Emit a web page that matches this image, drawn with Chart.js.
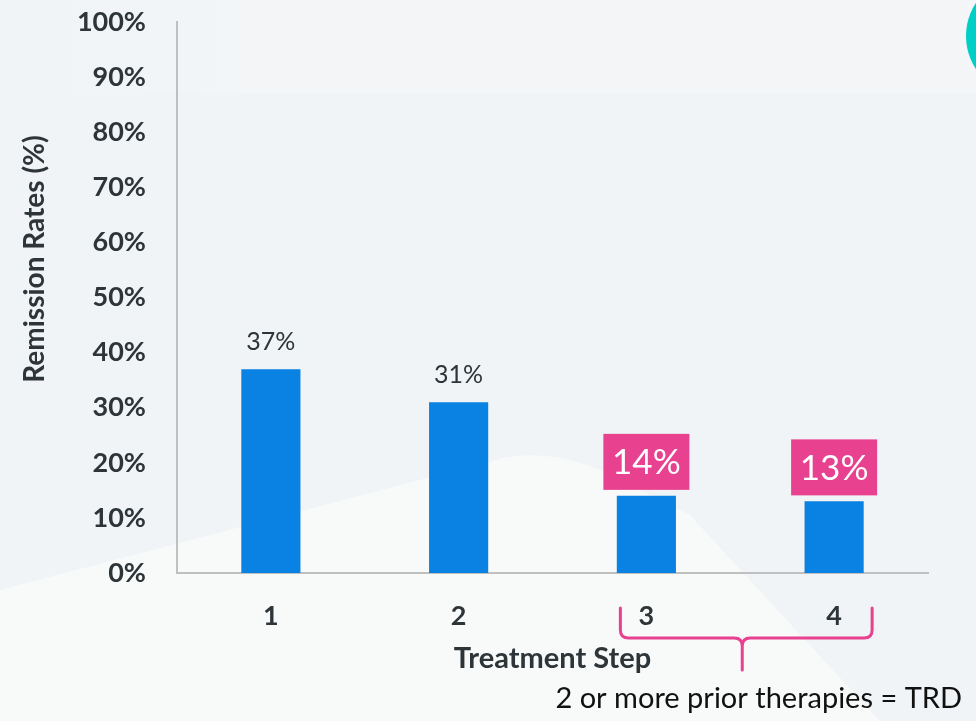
<!DOCTYPE html>
<html>
<head>
<meta charset="utf-8">
<script src="https://cdn.jsdelivr.net/npm/chart.js@4.4.1/dist/chart.umd.min.js"></script>
<style>
  html, body { margin: 0; padding: 0; background: #f1f4f6; }
  #wrap { width: 976px; height: 721px; }
</style>
</head>
<body>
<div id="wrap"><canvas id="chart" width="976" height="721"></canvas></div>
<script>
// Data
const steps = ["1", "2", "3", "4"];
const remission = [37, 31, 14, 13];
const highlighted = [false, false, true, true];
const yTitle = "Remission Rates (%)";
const xTitle = "Treatment Step";
const trdNote = "2 or more prior therapies = TRD";

const FONT = "Lato, 'Open Sans', sans-serif";
const DARK = "#2e3538";
const PINK = "#e8418f";
const BLUE = "#0a82e3";

// background shapes
const backdrop = {
  id: "backdrop",
  beforeDraw(chart) {
    const ctx = chart.ctx;
    ctx.save();
    ctx.fillStyle = "#f0f4f6";
    ctx.fillRect(0, 0, chart.width, chart.height);
    // faint top band
    const g = ctx.createLinearGradient(60, 0, 260, 0);
    g.addColorStop(0, "rgba(246,247,249,0)");
    g.addColorStop(1, "rgba(246,247,249,0.6)");
    ctx.fillStyle = g;
    ctx.fillRect(0, 0, chart.width, 93);
    // lighter lower shape
    ctx.fillStyle = "#f8f9f9";
    ctx.beginPath();
    ctx.moveTo(0, 590);
    ctx.lineTo(500, 459);
    ctx.quadraticCurveTo(545, 448, 600, 470);
    ctx.lineTo(690, 515);
    ctx.lineTo(880, 721);
    ctx.lineTo(0, 721);
    ctx.closePath();
    ctx.fill();
    // teal circle, top right
    ctx.fillStyle = "#00cfc8";
    ctx.beginPath();
    ctx.arc(1026, 36, 60, 0, Math.PI * 2);
    ctx.fill();
    ctx.restore();
  }
};

// value labels above bars
const valueLabels = {
  id: "valueLabels",
  afterDatasetsDraw(chart) {
    const ctx = chart.ctx;
    const meta = chart.getDatasetMeta(0);
    ctx.save();
    ctx.textAlign = "center";
    ctx.textBaseline = "middle";
    meta.data.forEach((bar, i) => {
      const txt = remission[i] + "%";
      if (highlighted[i]) {
        const w = 86, h = 56;
        const bottom = bar.y - 6;
        ctx.fillStyle = PINK;
        ctx.fillRect(bar.x - w / 2, bottom - h, w, h);
        ctx.fillStyle = "#ffffff";
        ctx.font = "35px " + FONT;
        ctx.fillText(txt, bar.x, bottom - h / 2 + 1);
      } else {
        ctx.fillStyle = DARK;
        ctx.font = "25px " + FONT;
        ctx.fillText(txt, bar.x, bar.y - 27);
      }
    });
    ctx.restore();
  }
};

// y title, bracket and note
const extras = {
  id: "extras",
  afterDraw(chart) {
    const ctx = chart.ctx;
    const x = chart.scales.x;
    ctx.save();
    ctx.fillStyle = DARK;
    ctx.font = "bold 28px " + FONT;
    ctx.textAlign = "center";
    ctx.textBaseline = "middle";
    ctx.translate(35, 259);
    ctx.rotate(-Math.PI / 2);
    ctx.fillText(yTitle, 0, 0);
    ctx.restore();

    // bracket under steps 3 and 4
    const left = x.getPixelForValue(2) - 26;
    const right = x.getPixelForValue(3) + 38;
    const mid = (left + right) / 2 - 4;
    const top = 608, line = 638, tip = 670, r = 8;
    ctx.save();
    ctx.strokeStyle = PINK;
    ctx.lineWidth = 3;
    ctx.lineCap = "round";
    ctx.beginPath();
    ctx.moveTo(left, top);
    ctx.lineTo(left, line - r);
    ctx.quadraticCurveTo(left, line, left + r, line);
    ctx.lineTo(mid - r, line);
    ctx.quadraticCurveTo(mid, line, mid, line + r);
    ctx.lineTo(mid, tip);
    ctx.moveTo(mid, line + r);
    ctx.quadraticCurveTo(mid, line, mid + r, line);
    ctx.lineTo(right - r, line);
    ctx.quadraticCurveTo(right, line, right, line - r);
    ctx.lineTo(right, top);
    ctx.stroke();
    ctx.restore();

    ctx.save();
    ctx.fillStyle = "#111111";
    ctx.font = "29px " + FONT;
    ctx.textAlign = "right";
    ctx.textBaseline = "alphabetic";
    ctx.fillText(trdNote, 962, 708);
    ctx.restore();
  }
};

new Chart(document.getElementById("chart"), {
  type: "bar",
  data: {
    labels: steps,
    datasets: [{
      data: remission,
      backgroundColor: BLUE,
      barPercentage: 0.315,
      categoryPercentage: 1
    }]
  },
  options: {
    responsive: false,
    animation: false,
    layout: { padding: { top: 22, right: 48, bottom: 45, left: 0 } },
    plugins: { legend: { display: false }, tooltip: { enabled: false } },
    scales: {
      x: {
        grid: { display: false, drawTicks: false },
        border: { color: "#c0c0c0", width: 2 },
        ticks: { padding: 27, color: DARK, font: { family: FONT, size: 27, weight: "bold" } },
        title: {
          display: true, text: xTitle, color: DARK,
          font: { family: FONT, size: 29, weight: "bold" },
          padding: { top: 0, bottom: 0 }
        },
        afterFit: (s) => { s.height = 103; s.paddingLeft = 0; s.paddingRight = 0; }
      },
      y: {
        min: 0, max: 100,
        grid: { display: false, drawTicks: false },
        border: { color: "#c0c0c0", width: 2 },
        ticks: {
          stepSize: 10, padding: 31, color: DARK,
          font: { family: FONT, size: 27, weight: "bold" },
          callback: (v) => v + "%"
        },
        afterFit: (s) => { s.width = 177; s.paddingTop = 0; s.paddingBottom = 0; }
      }
    }
  },
  plugins: [backdrop, valueLabels, extras]
});
</script>
</body>
</html>
